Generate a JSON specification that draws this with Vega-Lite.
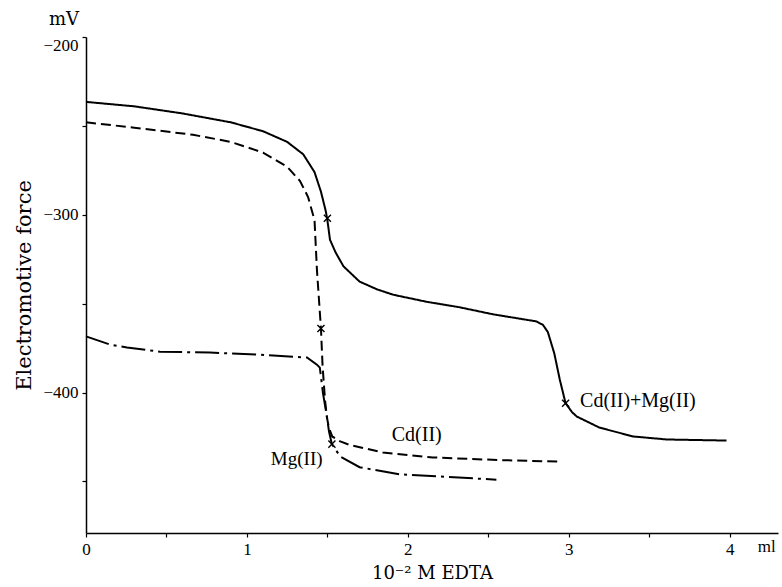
{
  "$schema": "https://vega.github.io/schema/vega-lite/v6.json",
  "width": 692,
  "height": 496,
  "autosize": {"type": "none"},
  "padding": {"left": 86, "top": 37, "right": 4, "bottom": 54},
  "background": "white",
  "config": {
    "font": "Liberation Serif",
    "view": {"stroke": null},
    "axis": {"grid": false, "domainColor": "black", "domainWidth": 1.5, "tickColor": "black", "tickWidth": 1.2, "tickSize": 4, "labelColor": "black", "titleColor": "black", "labelFont": "Liberation Serif", "titleFont": "DejaVu Serif", "labelFontSize": 17, "titleFontWeight": "normal"}
  },
  "datasets": {
    "curves": [
      {"series": "CdMg", "x": 0, "y": -236.5},
      {"series": "CdMg", "x": 0.3, "y": -239},
      {"series": "CdMg", "x": 0.6, "y": -243},
      {"series": "CdMg", "x": 0.9, "y": -248},
      {"series": "CdMg", "x": 1.1, "y": -253},
      {"series": "CdMg", "x": 1.25, "y": -259},
      {"series": "CdMg", "x": 1.35, "y": -266},
      {"series": "CdMg", "x": 1.42, "y": -276},
      {"series": "CdMg", "x": 1.46, "y": -287},
      {"series": "CdMg", "x": 1.49, "y": -298},
      {"series": "CdMg", "x": 1.5, "y": -303},
      {"series": "CdMg", "x": 1.516, "y": -314},
      {"series": "CdMg", "x": 1.55, "y": -321},
      {"series": "CdMg", "x": 1.6, "y": -329},
      {"series": "CdMg", "x": 1.7, "y": -337.6},
      {"series": "CdMg", "x": 1.81, "y": -342},
      {"series": "CdMg", "x": 1.91, "y": -345},
      {"series": "CdMg", "x": 2.12, "y": -349},
      {"series": "CdMg", "x": 2.32, "y": -352},
      {"series": "CdMg", "x": 2.53, "y": -356},
      {"series": "CdMg", "x": 2.8, "y": -360},
      {"series": "CdMg", "x": 2.84, "y": -362},
      {"series": "CdMg", "x": 2.87, "y": -366},
      {"series": "CdMg", "x": 2.91, "y": -378},
      {"series": "CdMg", "x": 2.944, "y": -392.7},
      {"series": "CdMg", "x": 2.98, "y": -406},
      {"series": "CdMg", "x": 3.02, "y": -411},
      {"series": "CdMg", "x": 3.05, "y": -413.5},
      {"series": "CdMg", "x": 3.19, "y": -419.7},
      {"series": "CdMg", "x": 3.4, "y": -424.7},
      {"series": "CdMg", "x": 3.61, "y": -426.4},
      {"series": "CdMg", "x": 3.98, "y": -427},
      {"series": "Cd", "x": 0, "y": -248},
      {"series": "Cd", "x": 0.3, "y": -251},
      {"series": "Cd", "x": 0.665, "y": -255},
      {"series": "Cd", "x": 0.9, "y": -259},
      {"series": "Cd", "x": 1.1, "y": -265},
      {"series": "Cd", "x": 1.25, "y": -273},
      {"series": "Cd", "x": 1.33, "y": -281},
      {"series": "Cd", "x": 1.38, "y": -290},
      {"series": "Cd", "x": 1.42, "y": -303},
      {"series": "Cd", "x": 1.435, "y": -331},
      {"series": "Cd", "x": 1.46, "y": -364},
      {"series": "Cd", "x": 1.47, "y": -385},
      {"series": "Cd", "x": 1.485, "y": -404},
      {"series": "Cd", "x": 1.497, "y": -414},
      {"series": "Cd", "x": 1.51, "y": -420},
      {"series": "Cd", "x": 1.53, "y": -424.7},
      {"series": "Cd", "x": 1.58, "y": -427.5},
      {"series": "Cd", "x": 1.64, "y": -429.5},
      {"series": "Cd", "x": 1.845, "y": -433.7},
      {"series": "Cd", "x": 2.155, "y": -436.5},
      {"series": "Cd", "x": 2.57, "y": -438},
      {"series": "Cd", "x": 2.93, "y": -438.8},
      {"series": "Mg", "x": 0, "y": -368.4},
      {"series": "Mg", "x": 0.15, "y": -373},
      {"series": "Mg", "x": 0.255, "y": -374.7},
      {"series": "Mg", "x": 0.46, "y": -377},
      {"series": "Mg", "x": 0.77, "y": -377.5},
      {"series": "Mg", "x": 1.08, "y": -378.7},
      {"series": "Mg", "x": 1.286, "y": -379.8},
      {"series": "Mg", "x": 1.373, "y": -380.3},
      {"series": "Mg", "x": 1.435, "y": -384.3},
      {"series": "Mg", "x": 1.453, "y": -386},
      {"series": "Mg", "x": 1.472, "y": -400},
      {"series": "Mg", "x": 1.497, "y": -413.5},
      {"series": "Mg", "x": 1.51, "y": -422},
      {"series": "Mg", "x": 1.528, "y": -429},
      {"series": "Mg", "x": 1.58, "y": -436},
      {"series": "Mg", "x": 1.7, "y": -442},
      {"series": "Mg", "x": 1.95, "y": -446},
      {"series": "Mg", "x": 2.55, "y": -449}
    ],
    "marks": [
      {"x": 1.5, "y": -302},
      {"x": 2.98, "y": -406},
      {"x": 1.46, "y": -364},
      {"x": 1.528, "y": -429}
    ],
    "labelsLeft": [
      {"x": 3.07, "y": -405, "label": "Cd(II)+Mg(II)"},
      {"x": 1.9, "y": -423.6, "label": "Cd(II)"}
    ],
    "labelsRight": [
      {"x": 1.47, "y": -437.6, "label": "Mg(II)"}
    ]
  },
  "layer": [
    {
      "data": {"name": "curves"},
      "mark": {"type": "line", "color": "black", "strokeWidth": 2, "clip": false},
      "encoding": {
        "x": {"field": "x", "type": "quantitative", "scale": {"domain": [0, 4.3], "nice": false, "zero": false},
          "axis": {"values": [0, 0.5, 1, 1.5, 2, 2.5, 3, 3.5, 4], "labelExpr": "datum.value % 1 === 0 ? format(datum.value, 'd') : ''", "labelFlush": false, "title": "10⁻² M EDTA", "titleFontSize": 18, "titlePadding": 7, "labelPadding": 4}},
        "y": {"field": "y", "type": "quantitative", "scale": {"domain": [-479, -200], "nice": false, "zero": false},
          "axis": {"values": [-450, -400, -350, -300, -250, -200], "labelExpr": "datum.value % 100 === 0 ? '−' + abs(datum.value) : ''", "labelFlush": true, "title": "Electromotive force", "titleFontSize": 21, "titlePadding": 8, "labelPadding": 4}},
        "detail": {"field": "series"},
        "strokeDash": {"field": "series", "type": "nominal", "scale": {"domain": ["CdMg", "Cd", "Mg"], "range": [[1, 0], [10, 5], [24, 5, 3, 5]]}, "legend": null}
      }
    },
    {
      "data": {"name": "marks"},
      "mark": {"type": "point", "shape": "M-1,-1L1,1M-1,1L1,-1", "filled": false, "color": "black", "size": 50, "strokeWidth": 1.4, "opacity": 1},
      "encoding": {
        "x": {"field": "x", "type": "quantitative"},
        "y": {"field": "y", "type": "quantitative"}
      }
    },
    {
      "data": {"name": "labelsLeft"},
      "mark": {"type": "text", "align": "left", "baseline": "middle", "fontSize": 20, "color": "black", "font": "Liberation Serif"},
      "encoding": {
        "x": {"field": "x", "type": "quantitative"},
        "y": {"field": "y", "type": "quantitative"},
        "text": {"field": "label"}
      }
    },
    {
      "data": {"name": "labelsRight"},
      "mark": {"type": "text", "align": "right", "baseline": "middle", "fontSize": 19, "color": "black", "font": "Liberation Serif"},
      "encoding": {
        "x": {"field": "x", "type": "quantitative"},
        "y": {"field": "y", "type": "quantitative"},
        "text": {"field": "label"}
      }
    },
    {
      "data": {"values": [{"t": "mV"}]},
      "mark": {"type": "text", "align": "center", "baseline": "middle", "fontSize": 18, "color": "black", "font": "DejaVu Serif", "dx": -22, "dy": -17, "clip": false},
      "encoding": {
        "x": {"datum": 0, "type": "quantitative"},
        "y": {"datum": -200, "type": "quantitative"},
        "text": {"field": "t"}
      }
    },
    {
      "data": {"values": [{"t": "ml"}]},
      "mark": {"type": "text", "align": "center", "baseline": "middle", "fontSize": 17, "color": "black", "dy": 14, "clip": false},
      "encoding": {
        "x": {"datum": 4.23, "type": "quantitative"},
        "y": {"datum": -479, "type": "quantitative"},
        "text": {"field": "t"}
      }
    }
  ]
}
